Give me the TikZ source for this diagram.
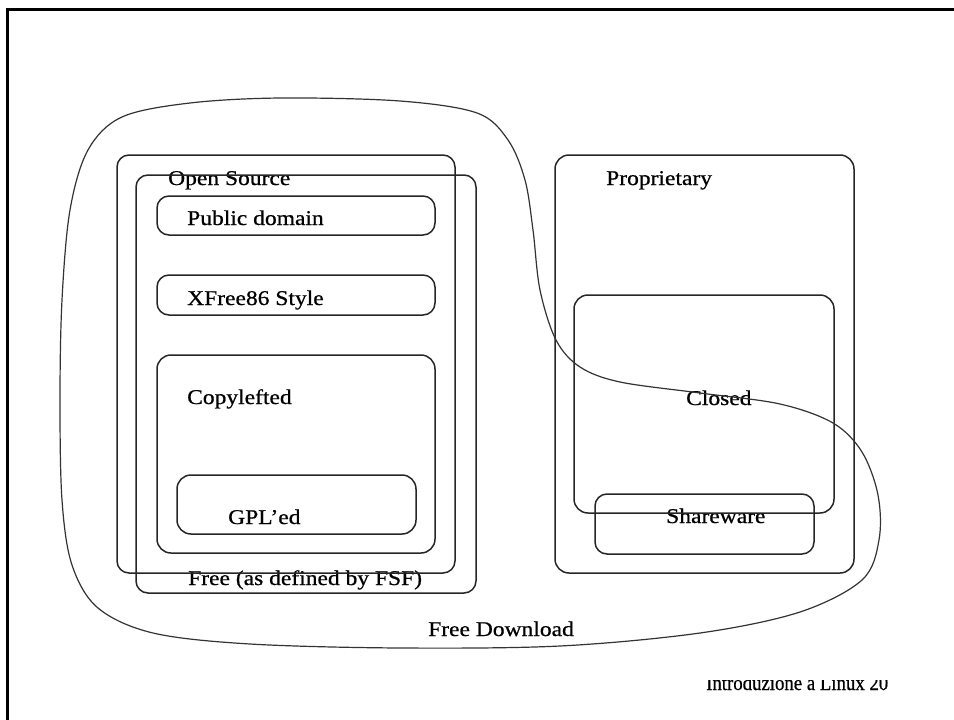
\documentclass[tikz,border=0pt]{standalone}
\usepackage{fontspec}
\setmainfont{Liberation Serif}[FakeStretch=1.12,FakeBold=0.7]
\begin{document}
\begin{tikzpicture}[x=1pt,y=-1pt,
  box/.style={draw=black!85,line width=1.5pt},
  lbl/.style={anchor=base west,inner sep=0pt,font=\fontsize{21}{24}\selectfont},
  blob/.style={draw=black!80,line width=1.2pt}]
\useasboundingbox (0,0) rectangle (954,720);
% frame
\draw[line width=3pt,line cap=rect] (7,720) -- (7,9) -- (954,9);
% labels
\node[lbl] (os) at (168,185) {Open Source};
\node[lbl] (pd) at (187,225) {Public domain};
\node[lbl] (xf) at (187,305) {XFree86 Style};
\node[lbl] (cl) at (187,404) {Copylefted};
\node[lbl] (gpl) at (228,524) {GPL’ed};
\node[lbl] (fsf) at (188,585) {Free (as defined by FSF)};
\node[lbl] (prop) at (606,185) {Proprietary};
\node[lbl] (clo) at (686,405) {Closed};
\node[lbl] (sw) at (666,523) {Shareware};
\node[lbl] (fd) at (428,636) {Free Download};
% footer (top clipped)
\begin{scope}
\clip (690,680) rectangle (900,700);
\node[anchor=base west,inner sep=0pt] (foot) at (706,690)
  {\resizebox{182pt}{15pt}{Introduzione a Linux 20}};
\end{scope}
% boxes
\draw[box,rounded corners=12pt] (117,155) rectangle (455,573);
\draw[box,rounded corners=12pt] (136,175) rectangle (476,593);
\draw[box,rounded corners=12pt] (157,196) rectangle (435,235);
\draw[box,rounded corners=12pt] (157,275) rectangle (435,315);
\draw[box,rounded corners=14pt] (157,355) rectangle (435,553);
\draw[box,rounded corners=14pt] (177,475) rectangle (416,534);
\draw[box,rounded corners=14pt] (555,155) rectangle (854,573);
\draw[box,rounded corners=14pt] (574,295) rectangle (834,513);
\draw[box,rounded corners=12pt] (595,494) rectangle (814,554);
% free download blob
\draw[blob] plot[smooth cycle,tension=0.55] coordinates {
 (281,98) (400,101) (477,113) (508,140) (525,180) (533,230) (540,290)
 (556,340) (580,367) (620,382) (700,393) (780,404) (833,423) (862,452)
 (878,495) (879,540) (862,580) (800,612) (700,633) (560,646) (400,648)
 (250,644) (153,633) (98,608) (72,565) (62,500) (60,400) (62,300)
 (70,210) (88,150) (122,117) (190,103)};
\end{tikzpicture}
\end{document}
